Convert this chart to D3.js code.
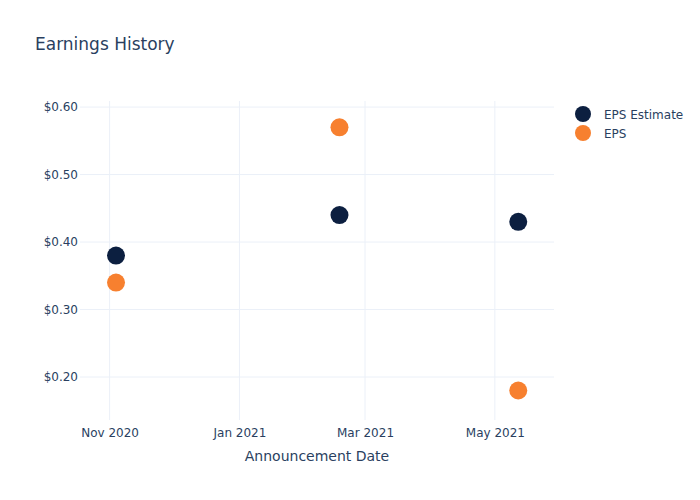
<!DOCTYPE html>
<html>
<head>
<meta charset="utf-8">
<script src="https://cdn.jsdelivr.net/npm/d3@7"></script>
<style>
  body { margin: 0; background: #fff; }
  text { font-family: "DejaVu Sans", Verdana, sans-serif; }
</style>
</head>
<body>
<div id="chart"></div>
<script>
// data
var dates = ["2020-11-04", "2021-02-17", "2021-05-12"];
var epsEstimate = [0.38, 0.44, 0.43];
var eps = [0.34, 0.57, 0.18];
var yTicks = [0.2, 0.3, 0.4, 0.5, 0.6];
var xTicks = ["2020-11-01", "2021-01-01", "2021-03-01", "2021-05-01"];
var seriesNames = ["EPS Estimate", "EPS"];
var seriesColors = ["#0c1f40", "#f7802f"];

var W = 700, H = 500;
var margin = { top: 101, right: 146, bottom: 80, left: 80 };
var width = W - margin.left - margin.right,
    height = H - margin.top - margin.bottom;

var parse = d3.utcParse("%Y-%m-%d");

var svg = d3.select("#chart")
    .append("svg")
    .attr("width", W)
    .attr("height", H);

var g = svg.append("g")
    .attr("transform", "translate(" + margin.left + "," + margin.top + ")");

// scales
var x = d3.scaleUtc()
    .domain([new Date(Date.UTC(2020, 9, 18, 2)), new Date(Date.UTC(2021, 4, 28, 19))])
    .range([0, width]);

var y = d3.scaleLinear()
    .domain([0.1363, 0.609])
    .range([height, 0]);

// grid
g.append("g").selectAll("line")
    .data(xTicks)
    .join("line")
    .attr("x1", d => x(parse(d)))
    .attr("x2", d => x(parse(d)))
    .attr("y1", 0)
    .attr("y2", height)
    .attr("stroke", "#ebf0f8")
    .attr("stroke-width", 1);

g.append("g").selectAll("line")
    .data(yTicks)
    .join("line")
    .attr("x1", 0)
    .attr("x2", width)
    .attr("y1", d => y(d))
    .attr("y2", d => y(d))
    .attr("stroke", "#ebf0f8")
    .attr("stroke-width", 1);

// axes
var axisX = g.append("g")
    .attr("transform", "translate(0," + height + ")")
    .call(d3.axisBottom(x)
        .tickValues(xTicks.map(parse))
        .tickFormat(d3.utcFormat("%b %Y"))
        .tickSize(0)
        .tickPadding(8));

var axisY = g.append("g")
    .call(d3.axisLeft(y)
        .tickValues(yTicks)
        .tickFormat(d => "$" + d.toFixed(2))
        .tickSize(0)
        .tickPadding(2));

[axisX, axisY].forEach(function (a) {
    a.select(".domain").remove();
    a.selectAll("text")
        .attr("fill", "#2a3f5f")
        .style("font-size", "12px")
        .style("font-family", "DejaVu Sans, sans-serif");
});

// points
var series = [epsEstimate, eps];
series.forEach(function (vals, i) {
    g.append("g").selectAll("circle")
        .data(vals)
        .join("circle")
        .attr("cx", (d, j) => x(parse(dates[j])))
        .attr("cy", d => y(d))
        .attr("r", 9)
        .attr("fill", seriesColors[i]);
});

// title
svg.append("text")
    .attr("x", 35)
    .attr("y", 50)
    .attr("fill", "#2a3f5f")
    .style("font-size", "17px")
    .text("Earnings History");

// axis title
svg.append("text")
    .attr("x", margin.left + width / 2)
    .attr("y", 461)
    .attr("text-anchor", "middle")
    .attr("fill", "#2a3f5f")
    .style("font-size", "14px")
    .text("Announcement Date");

// legend
var legend = svg.append("g")
    .attr("transform", "translate(583,114)");

seriesNames.forEach(function (name, i) {
    var row = legend.append("g")
        .attr("transform", "translate(0," + (i * 19) + ")");
    row.append("circle")
        .attr("r", 8)
        .attr("fill", seriesColors[i]);
    row.append("text")
        .attr("x", 21)
        .attr("y", 4.5)
        .attr("fill", "#2a3f5f")
        .style("font-size", "12px")
        .text(name);
});
</script>
</body>
</html>
